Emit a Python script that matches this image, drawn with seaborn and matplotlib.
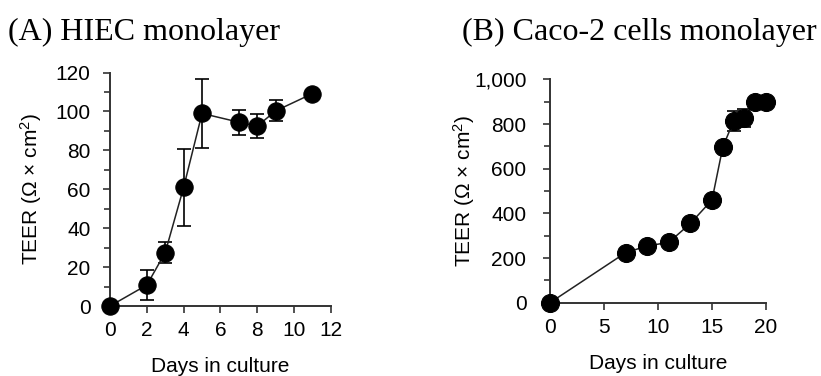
import matplotlib
matplotlib.use("Agg")
import matplotlib.pyplot as plt
import matplotlib.ticker as mticker
import numpy as np
import pandas as pd
import seaborn as sns

# HIEC monolayer TEER
hiec_days = [0, 2, 3, 4, 5, 7, 8, 9, 11]
hiec_teer = [0, 10.8, 27.5, 61, 99, 94.5, 92.5, 100.3, 109.2]
hiec_sd = [0, 7.8, 5.4, 19.8, 17.6, 6.4, 6.1, 5.4, 0]

# Caco-2 monolayer TEER
caco_days = [0, 7, 9, 11, 13, 15, 16, 17, 18, 19, 20]
caco_teer = [0, 224, 254, 270, 355, 460, 697, 813, 828, 897, 900]
caco_sd = [0, 0, 0, 0, 0, 0, 0, 45, 40, 0, 0]

titles = ["(A) HIEC monolayer", "(B) Caco-2 cells monolayer"]
ylabel = "TEER (\u03a9 \u00d7 cm$^{2}$)"
xlabel = "Days in culture"

sns.set_theme(style="ticks")
plt.rcParams["font.family"] = ["Liberation Sans", "DejaVu Sans"]
plt.rcParams["mathtext.fontset"] = "custom"
plt.rcParams["mathtext.rm"] = "Liberation Sans"
plt.rcParams["mathtext.default"] = "regular"

fig = plt.figure(figsize=(8.21, 3.76), dpi=100)
axA = fig.add_axes([0.134, 0.186, 0.269, 0.621])
axB = fig.add_axes([0.670, 0.195, 0.263, 0.594])

spine_col = "#333333"


def draw(ax, days, teer, sd, msize, ypad, ylabpad):
    df = pd.DataFrame({"day": days, "teer": teer})
    ax.errorbar(days, teer, yerr=sd, fmt="none", ecolor="black",
                elinewidth=1.2, capsize=5, capthick=1.2, zorder=3, clip_on=False)
    sns.lineplot(data=df, x="day", y="teer", ax=ax, color="#222222",
                 linewidth=1.1, marker="o", markersize=msize,
                 markerfacecolor="black", markeredgecolor="black",
                 clip_on=False, zorder=4)
    for s in ["top", "right"]:
        ax.spines[s].set_visible(False)
    for s in ["left", "bottom"]:
        ax.spines[s].set_color(spine_col)
        ax.spines[s].set_linewidth(1.4)
    ax.tick_params(which="major", direction="out", length=5, width=1.2,
                   color=spine_col, labelsize=15, pad=6, labelcolor="black")
    ax.tick_params(axis="y", which="major", pad=ypad)
    ax.tick_params(which="minor", direction="out", length=4, width=1.2,
                   color=spine_col)
    ax.set_xlabel(xlabel, fontsize=15, labelpad=12, color="black")
    ax.set_ylabel(ylabel, fontsize=15, labelpad=ylabpad, color="black")


draw(axA, hiec_days, hiec_teer, hiec_sd, 12.5, 9, 8)
axA.set_xlim(0, 12)
axA.set_ylim(0, 120)
axA.xaxis.set_major_locator(mticker.MultipleLocator(2))
axA.yaxis.set_major_locator(mticker.MultipleLocator(20))
axA.yaxis.set_minor_locator(mticker.MultipleLocator(10))

draw(axB, caco_days, caco_teer, caco_sd, 13, 12, -2)
axB.set_xlim(0, 20)
axB.set_ylim(0, 1000)
axB.xaxis.set_major_locator(mticker.MultipleLocator(5))
axB.yaxis.set_major_locator(mticker.MultipleLocator(200))
axB.yaxis.set_minor_locator(mticker.MultipleLocator(100))
axB.yaxis.set_major_formatter(mticker.StrMethodFormatter("{x:,.0f}"))

fig.text(0.010, 0.915, titles[0], fontsize=23, family="Liberation Serif",
         ha="left", va="center", color="black")
fig.text(0.563, 0.915, titles[1], fontsize=23, family="Liberation Serif",
         ha="left", va="center", color="black")

fig.savefig("out.png", dpi=100, facecolor="white")
